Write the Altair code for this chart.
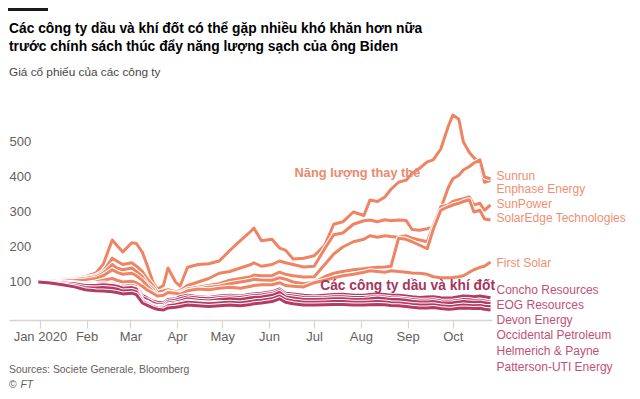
import altair as alt
import pandas as pd

# ---------------- data ----------------
DATES = [
    "2019-12-31", "2020-01-08", "2020-01-16", "2020-01-24", "2020-01-31",
    "2020-02-07", "2020-02-12", "2020-02-18", "2020-02-21", "2020-02-25",
    "2020-03-02", "2020-03-05", "2020-03-09", "2020-03-12", "2020-03-16",
    "2020-03-19", "2020-03-23", "2020-03-26", "2020-03-31",
    "2020-04-03", "2020-04-08", "2020-04-15", "2020-04-22", "2020-04-29",
    "2020-05-06", "2020-05-13", "2020-05-20", "2020-05-22", "2020-05-27",
    "2020-06-03", "2020-06-08", "2020-06-12", "2020-06-17", "2020-06-24",
    "2020-07-01", "2020-07-08", "2020-07-14", "2020-07-20", "2020-07-27",
    "2020-08-03", "2020-08-07", "2020-08-12", "2020-08-17", "2020-08-21",
    "2020-08-26", "2020-08-31",
    "2020-09-04", "2020-09-09", "2020-09-14", "2020-09-18", "2020-09-23",
    "2020-09-28",
    "2020-10-01", "2020-10-05", "2020-10-08", "2020-10-12", "2020-10-15",
    "2020-10-19", "2020-10-22", "2020-10-26",
]

SUNRUN = [100, 104, 108, 110, 115, 125, 150, 220, 205, 186,
          212, 210, 185, 150, 100, 80, 90, 140, 100,
          88, 142, 150, 152, 160, 190, 218, 245, 254, 218,
          222, 197, 191, 166, 168, 175, 205, 265, 272, 300,
          290, 334, 330, 343, 365, 385, 391,
          411, 425, 443, 449, 480, 545,
          577, 565, 500, 470, 455, 440, 385, 390]
ENPHASE = [100, 103, 106, 108, 112, 118, 130, 168, 160, 150,
           155, 145, 130, 110, 90, 70, 75, 78, 72,
           75, 90, 100, 110, 125, 130, 140, 150, 155, 145,
           150, 160, 155, 150, 143, 145, 195, 235, 240, 265,
           275, 277, 272, 278, 275, 277, 276,
           250, 248, 252, 257, 310, 370,
           395, 405, 420, 430, 440, 449, 400, 395]
SUNPOWER = [100, 102, 105, 107, 110, 115, 125, 150, 140, 135,
            140, 130, 115, 95, 80, 62, 65, 72, 68,
            70, 80, 85, 90, 95, 105, 110, 115, 120, 118,
            118, 128, 122, 118, 114, 115, 150, 180, 200, 215,
            222, 232, 228, 232, 230, 228, 232,
            225, 220, 215, 260, 315, 320,
            330, 335, 338, 343, 320, 325, 305, 320]
SOLAREDGE = [100, 102, 103, 104, 106, 110, 118, 135, 128, 122,
             125, 118, 105, 90, 72, 58, 62, 68, 65,
             66, 75, 80, 85, 88, 95, 100, 105, 108, 106,
             105, 112, 108, 100, 95, 100, 115, 125, 130, 135,
             138, 140, 142, 143, 145, 225, 222,
             215, 205, 195, 250, 305, 315,
             320, 325, 330, 335, 300, 305, 280, 277]
FIRST_SOLAR = [100, 98, 100, 97, 95, 100, 105, 110, 105, 100,
               102, 98, 88, 78, 68, 60, 62, 70, 68,
               65, 75, 80, 78, 82, 85, 82, 88, 90, 92,
               92, 98, 90, 88, 86, 98, 105, 112, 118, 122,
               128, 132, 130, 128, 132, 130, 128,
               126, 125, 122, 115, 112, 112,
               113, 115, 118, 128, 135, 142, 145, 157]

CONCHO = [100, 103, 100, 97, 95, 96, 97, 95, 92, 88,
          90, 86, 62, 55, 45, 42, 40, 50, 52,
          58, 62, 58, 56, 60, 62, 60, 65, 66, 68,
          72, 80, 68, 66, 62, 60, 62, 64, 65, 62,
          62, 64, 66, 64, 62, 62, 60,
          58, 56, 57, 58, 55, 54,
          55, 58, 60, 59, 58, 60, 58, 55]
EOG = [100, 101, 98, 96, 92, 93, 94, 92, 90, 85,
       86, 82, 55, 50, 40, 36, 35, 45, 48,
       52, 57, 54, 52, 55, 57, 56, 60, 61, 63,
       67, 75, 62, 60, 56, 55, 56, 58, 58, 56,
       56, 57, 58, 57, 55, 54, 52,
       50, 48, 48, 49, 46, 45,
       46, 48, 50, 49, 47, 48, 46, 42]
DEVON = [100, 100, 96, 93, 88, 88, 89, 86, 84, 78,
         80, 76, 48, 42, 33, 30, 30, 40, 42,
         46, 52, 48, 46, 50, 52, 50, 55, 56, 57,
         62, 70, 57, 54, 50, 50, 51, 52, 52, 50,
         51, 52, 54, 52, 50, 50, 48,
         45, 43, 43, 44, 41, 40,
         41, 43, 44, 43, 42, 43, 41, 38]
OCCIDENTAL = [100, 99, 97, 95, 90, 90, 92, 90, 88, 82,
              84, 80, 45, 40, 30, 28, 26, 35, 38,
              40, 45, 42, 40, 42, 40, 38, 42, 43, 45,
              48, 55, 44, 42, 38, 36, 38, 38, 37, 35,
              34, 35, 36, 35, 33, 32, 30,
              28, 26, 25, 26, 24, 23,
              24, 26, 28, 27, 26, 27, 25, 24]
HELMERICH = [100, 98, 94, 90, 84, 83, 84, 82, 80, 74,
             76, 72, 45, 38, 30, 26, 25, 32, 35,
             38, 42, 40, 38, 40, 42, 40, 44, 46, 48,
             52, 60, 50, 46, 42, 42, 43, 44, 44, 42,
             42, 43, 44, 43, 41, 40, 38,
             36, 34, 34, 35, 32, 30,
             31, 33, 34, 33, 32, 33, 31, 30]
PATTERSON = [100, 97, 92, 86, 78, 75, 74, 72, 70, 66,
             68, 64, 40, 34, 26, 22, 20, 26, 28,
             30, 34, 32, 30, 32, 34, 32, 36, 38, 40,
             44, 52, 42, 38, 34, 34, 35, 36, 36, 34,
             34, 35, 36, 35, 33, 32, 30,
             28, 26, 26, 27, 24, 22,
             23, 25, 26, 25, 24, 25, 22, 20]

RENEW_NAMES = ["Sunrun", "Enphase Energy", "SunPower", "SolarEdge Technologies", "First Solar"]
RENEW_VALUES = [SUNRUN, ENPHASE, SUNPOWER, SOLAREDGE, FIRST_SOLAR]
OIL_NAMES = ["Concho Resources", "EOG Resources", "Devon Energy",
             "Occidental Petroleum", "Helmerich & Payne", "Patterson-UTI Energy"]
OIL_VALUES = [CONCHO, EOG, DEVON, OCCIDENTAL, HELMERICH, PATTERSON]

TITLE_LINES = ["Các công ty dầu và khí đốt có thể gặp nhiều khó khăn hơn nữa",
               "trước chính sách thúc đẩy năng lượng sạch của ông Biden"]
SUBTITLE = "Giá cổ phiếu của các công ty"
SOURCE = "Sources: Societe Generale, Bloomberg"
GROUP_LABELS = ["Năng lượng thay thế", "Các công ty dầu và khí đốt"]
Y_TICKS = [100, 200, 300, 400, 500]

# ---------------- layout / style ----------------
W, H = 483, 213
FONT = "Liberation Sans"
RENEW_COLOR = "#ee8463"
OIL_COLOR = "#b43b63"
RENEW_LABEL_COLOR = "#ef8f72"
OIL_LABEL_COLOR = "#c1507a"
GREY = "#66605c"
AXIS_GREY = "#d9d4cf"

# end-label anchors (in value units on the y scale) and label date
END_LABEL_Y = [391, 355, 311, 272, 144, 66, 23, -20, -63, -109, -153]
END_LABEL_DATE = "2020-10-30"
GROUP_LABEL_POS = [("2020-06-18", 400), ("2020-07-05", 77)]

rows = []
for names, values, grp in [(RENEW_NAMES, RENEW_VALUES, "renew"), (OIL_NAMES, OIL_VALUES, "oil")]:
    for n, vals in zip(names, values):
        assert len(vals) == len(DATES), n
        for d, v in zip(DATES, vals):
            rows.append({"date": d, "value": v, "company": n, "group": grp})
df = pd.DataFrame(rows)

x_scale = alt.Scale(type="utc",
                    domain=[alt.DateTime(year=2019, month=12, date=11, hours=12, utc=True),
                            alt.DateTime(year=2020, month=10, date=27, utc=True)])
y_scale = alt.Scale(domain=[-8.6, 600], nice=False, zero=False)

x_axis = alt.Axis(
    values=[alt.DateTime(year=2020, month=m, date=1, utc=True) for m in range(1, 11)],
    labelExpr="utcFormat(datum.value, '%b') == 'Jan' ? 'Jan 2020' : utcFormat(datum.value, '%b')",
    title=None, grid=False, domainColor=AXIS_GREY, domainWidth=1.5,
    tickColor=AXIS_GREY, tickSize=8, tickWidth=1.2,
    labelColor=GREY, labelFont=FONT, labelFontSize=13, labelPadding=2,
)
y_axis = alt.Axis(
    values=Y_TICKS, title=None, grid=False, domain=False, ticks=False, tickSize=0,
    labelAlign="left", labelPadding=0, labelColor=GREY, labelFont=FONT, labelFontSize=13,
)

X = alt.X("date:T", scale=x_scale, axis=x_axis)
Y = alt.Y("value:Q", scale=y_scale, axis=y_axis)

layers = []
for names, col in [(RENEW_NAMES, RENEW_COLOR), (OIL_NAMES, OIL_COLOR)]:
    for n in names:
        base = alt.Chart(df).transform_filter(alt.datum.company == n).encode(x=X, y=Y)
        layers.append(base.mark_line(color="white", strokeWidth=5, strokeJoin="round"))
        layers.append(base.mark_line(color=col, strokeWidth=3, strokeJoin="round"))

# end labels
lab_df = pd.DataFrame({
    "name": RENEW_NAMES + OIL_NAMES,
    "date": [END_LABEL_DATE] * 11,
    "value": END_LABEL_Y,
    "col": [RENEW_LABEL_COLOR] * 5 + [OIL_LABEL_COLOR] * 6,
})
end_labels = alt.Chart(lab_df).mark_text(
    align="left", baseline="alphabetic", font=FONT, fontSize=12
).encode(x=X, y=Y, text="name:N", color=alt.Color("col:N", scale=None))

grp_df = pd.DataFrame({
    "label": GROUP_LABELS,
    "date": [p[0] for p in GROUP_LABEL_POS],
    "value": [p[1] for p in GROUP_LABEL_POS],
    "col": ["#ec8a6e", "#a5365f"],
    "size": [12.8, 13.8],
})
grp_labels = alt.Chart(grp_df).mark_text(
    align="left", baseline="alphabetic", font=FONT, fontWeight="bold"
).encode(x=X, y=Y, text="label:N", color=alt.Color("col:N", scale=None),
         size=alt.Size("size:Q", scale=None, legend=None))

one = pd.DataFrame({"k": [0]})


def txt(s, x, y, size, color, weight="normal", style="normal"):
    return alt.Chart(one).mark_text(
        align="left", baseline="alphabetic", font=FONT, fontSize=size,
        fontWeight=weight, fontStyle=style, color=color,
    ).encode(x=alt.value(x), y=alt.value(y), text=alt.value(s))


bar = alt.Chart(one).mark_rule(color="#1a1a1a", strokeWidth=3).encode(
    x=alt.value(-1), x2=alt.value(39), y=alt.value(-97.5))
title1 = txt(TITLE_LINES[0], 0, -74, 13.8, "#000000", weight="bold")
title2 = txt(TITLE_LINES[1], 0, -56.3, 13.8, "#000000", weight="bold")
subtitle = txt(SUBTITLE, 0, -31, 11.8, "#4a4542")
src = txt(SOURCE, 0, H + 53, 10.4, GREY)
copy = txt("©", 0, H + 68, 10.4, GREY)
ft = txt("FT", 11.5, H + 68, 10.4, GREY, style="italic")

chart = alt.layer(*layers, end_labels, grp_labels, bar, title1, title2, subtitle,
                  src, copy, ft).properties(
    width=W, height=H,
    padding={"left": 1, "top": 99, "right": 136, "bottom": 70},
    autosize=alt.AutoSizeParams(type="none"),
).configure_view(stroke=None)

chart.save("out.html", embed_options={"renderer": "svg", "actions": False})
